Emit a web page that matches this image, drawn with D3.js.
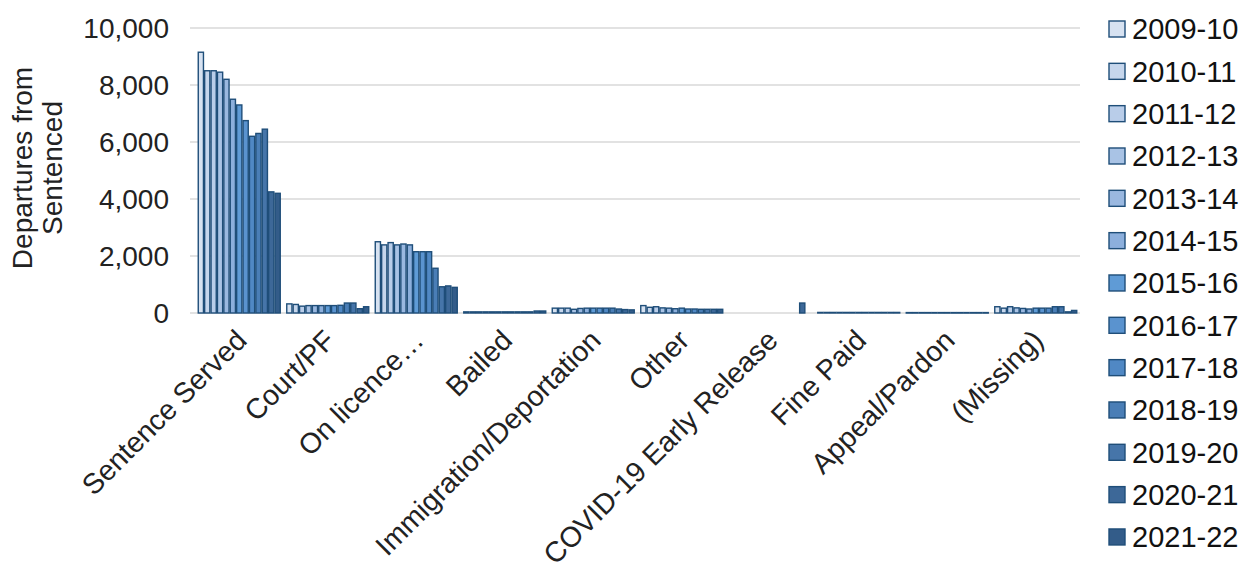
<!DOCTYPE html>
<html><head><meta charset="utf-8">
<script src="https://cdn.jsdelivr.net/npm/d3@7"></script>
<style>body{margin:0;background:#fff;}svg{font-family:"Liberation Sans",Arial,sans-serif;}</style>
</head><body>
<svg id="c" width="1251" height="575"></svg>
<script>
const categories = ["Sentence Served","Court/PF","On licence…","Bailed","Immigration/Deportation","Other","COVID-19 Early Release","Fine Paid","Appeal/Pardon","(Missing)"];
const years = ["2009-10","2010-11","2011-12","2012-13","2013-14","2014-15","2015-16","2016-17","2017-18","2018-19","2019-20","2020-21","2021-22"];
const sentenceServed = [9150,8500,8500,8450,8200,7500,7300,6750,6200,6300,6450,4250,4200];
const courtPF = [320,300,240,260,260,260,260,260,270,350,350,150,220];
const onLicence = [2500,2390,2470,2390,2420,2390,2150,2150,2150,1570,920,950,900];
const bailed = [40,40,40,40,40,40,40,40,40,40,40,70,70];
const immigration = [170,170,170,130,160,170,170,170,170,170,140,120,110];
const other = [260,200,220,180,170,150,170,140,140,130,130,130,130];
const covid = [0,0,0,0,0,0,0,0,0,0,0,350,0];
const finePaid = [20,20,20,20,20,20,20,20,20,20,20,20,20];
const appealPardon = [15,15,15,15,15,15,15,15,15,15,15,15,15];
const missing = [220,170,220,180,160,140,170,170,170,220,220,40,90];
const yTicks = [0,2000,4000,6000,8000,10000];
const colors = ["#d7e2f1","#c6d6ec","#b9cde9","#a9c3e5","#9ab8e0","#8cafdc","#5f9bd6","#5a93cf","#5088c4","#4a7eb6","#4675a9","#3d6898","#335c89"];

const seriesByCat = [sentenceServed,courtPF,onLicence,bailed,immigration,other,covid,finePaid,appealPardon,missing];

const svg = d3.select("#c");
const x0 = d3.scaleBand().domain(categories).range([195,1080]).paddingInner(0.06).paddingOuter(0.03);
const x1 = d3.scaleBand().domain(years).range([0,x0.bandwidth()]);
const y = d3.scaleLinear().domain([0,10000]).range([313,28]);

// gridlines
svg.append("g").selectAll("line").data(yTicks).join("line")
  .attr("x1",190).attr("x2",1080).attr("y1",d=>y(d)).attr("y2",d=>y(d))
  .attr("stroke","#d9d9d9").attr("stroke-width",1.3);

// y labels
svg.append("g").selectAll("text").data(yTicks).join("text")
  .attr("x",169).attr("y",d=>y(d)).attr("dy","0.36em").attr("text-anchor","end")
  .attr("font-size",28).attr("fill","#222").text(d=>d3.format(",")(d));

// y title
const titleLines = ["Departures from","Sentenced"];
svg.append("g").selectAll("text").data(titleLines).join("text")
  .attr("transform",(d,i)=>`translate(${32+i*30},168) rotate(-90)`)
  .attr("text-anchor","middle").attr("font-size",28).attr("fill","#222").text(d=>d);

// bars
const g = svg.append("g");
categories.forEach((c,ci)=>{
  const vals = seriesByCat[ci];
  g.append("g").attr("transform",`translate(${x0(c)},0)`)
   .selectAll("rect").data(years.map((yr,i)=>({yr,v:vals[i],i}))).join("rect")
   .filter(d=>d.v>0)
   .attr("x",d=>x1(d.yr)+0.6).attr("width",x1.bandwidth()-1.2)
   .attr("y",d=>y(d.v)).attr("height",d=>Math.max(0.5,y(0)-y(d.v)))
   .attr("fill",d=>colors[d.i]).attr("stroke","#1f4e79").attr("stroke-width",1.4);
});

// x labels
svg.append("g").selectAll("text").data(categories).join("text")
  .attr("transform",d=>`translate(${x0(d)+x0.bandwidth()/2-5},328) rotate(-45)`)
  .attr("text-anchor","end").attr("font-size",28.5).attr("fill","#222")
  .attr("dy","0.7em").text(d=>d);

// legend
const lg = svg.append("g").selectAll("g").data(years).join("g")
  .attr("transform",(d,i)=>`translate(1109,${29+i*42.33})`);
lg.append("rect").attr("x",0).attr("y",-8).attr("width",16).attr("height",16)
  .attr("fill",(d,i)=>colors[i]).attr("stroke","#1f4e79").attr("stroke-width",1.4);
lg.append("text").attr("x",23).attr("dy","0.36em").attr("font-size",29).attr("fill","#111").text(d=>d);
</script>
</body></html>
